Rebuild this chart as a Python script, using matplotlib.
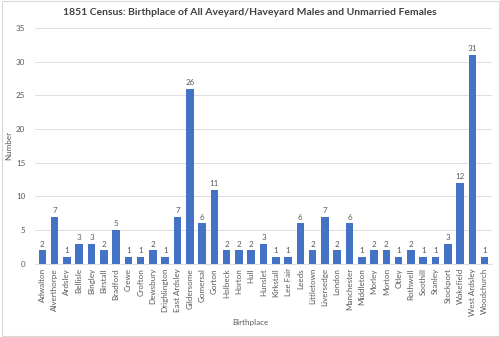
import matplotlib.pyplot as plt
import numpy as np

# Data
places = ["Adwalton", "Alverthorpe", "Ardsley", "Bellisle", "Bingley", "Birstall",
          "Bradford", "Crewe", "Crofton", "Dewsbury", "Drighlington", "East Ardsley",
          "Gildersome", "Gomersal", "Gorton", "Holbeck", "Horton", "Hull", "Hunslet",
          "Kirkstall", "Lee Fair", "Leeds", "Littletown", "Liversedge", "London",
          "Manchester", "Middleton", "Morley", "Morton", "Otley", "Rothwell",
          "Soothill", "Stanley", "Stockport", "Wakefield", "West Ardsley", "Woodchurch"]
counts = [2, 7, 1, 3, 3, 2, 5, 1, 1, 2, 1, 7, 26, 6, 11, 2, 2, 2, 3, 1, 1, 6,
          2, 7, 2, 6, 1, 2, 2, 1, 2, 1, 1, 3, 12, 31, 1]

plt.rcParams["font.family"] = ["Lato", "DejaVu Sans"]
text_col = "#595959"

fig = plt.figure(figsize=(5, 3.37), dpi=100)
ax = fig.add_axes([0.07, 0.217, 0.914, 0.70])

x = np.arange(len(places))
bars = ax.bar(x, counts, width=0.62, color="#4472C4", zorder=3)
ax.bar_label(bars, labels=[str(c) for c in counts], padding=2,
             fontsize=5.8, color=text_col)

ax.set_xlim(-0.6, len(places) - 0.4)
ax.set_ylim(0, 35)
ax.set_yticks(range(0, 36, 5))
ax.set_xticks(x)
ax.set_xticklabels(places, rotation=90, fontsize=5.8, color=text_col)
ax.tick_params(axis="y", labelsize=5.8, labelcolor=text_col, length=0, pad=7)
ax.tick_params(axis="x", length=0, pad=3)
ax.grid(axis="y", color="#D9D9D9", linewidth=0.6, zorder=0)
for side in ["top", "right", "left"]:
    ax.spines[side].set_visible(False)
ax.spines["bottom"].set_color("#D9D9D9")
ax.spines["bottom"].set_linewidth(0.6)

fig.text(0.018, 0.567, "Number", rotation=90, ha="center", va="center",
         fontsize=5.8, color=text_col)
fig.text(0.5, 0.035, "Birthplace", ha="center", fontsize=5.8, color=text_col)
fig.suptitle("1851 Census: Birthplace of All Aveyard/Haveyard Males and Unmarried Females",
             y=0.975, fontsize=7.5, fontweight="bold", color="#404040")

# light chart border
fig.patches.append(plt.Rectangle((0.003, 0.004), 0.994, 0.992, transform=fig.transFigure,
                                 fill=False, edgecolor="#D9D9D9", linewidth=0.8))

fig.savefig("out.png", dpi=100)
